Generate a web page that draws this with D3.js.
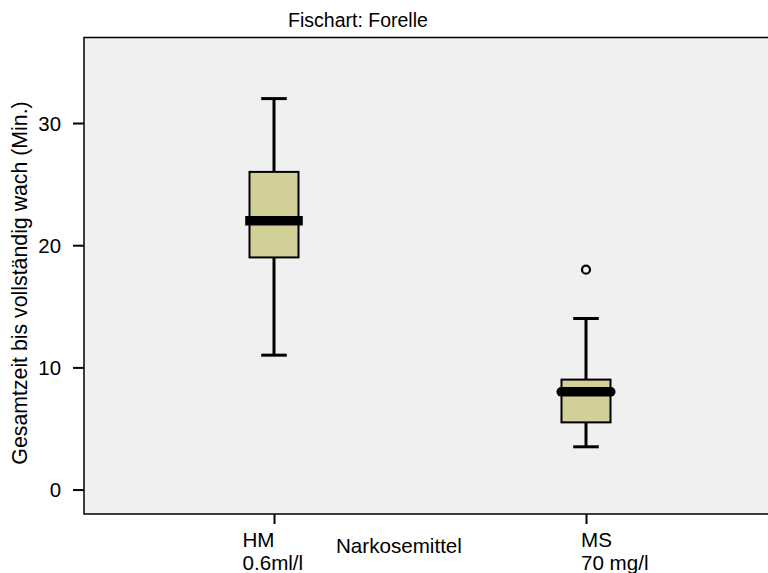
<!DOCTYPE html>
<html><head><meta charset="utf-8">
<script src="https://cdn.jsdelivr.net/npm/d3@7"></script>
<style>body{margin:0;background:#fff}text{font-family:"Liberation Sans",Arial,sans-serif;fill:#000}</style>
</head><body>
<svg id="c" width="768" height="573"></svg>
<script>
const categories = ["HM", "MS"];
const catSubLabels = ["0.6ml/l", "70 mg/l"];
const whiskerLow = [11, 3.5];
const q1 = [19, 5.5];
const median = [22, 8];
const q3 = [26, 9];
const whiskerHigh = [32, 14];
const outliers = [[], [18]];
const yTicks = [0, 10, 20, 30];

const svg = d3.select("#c");
const L = 84, T = 37.5, B = 514, R = 776;
const fsTitle = "19.5px", fsTick = "20.4px", fsLab = "20.6px", fsY = "21.3px";

svg.append("rect").attr("x", L).attr("y", T).attr("width", R - L).attr("height", B - T)
  .attr("fill", "#f0f0f0").attr("stroke", "#000").attr("stroke-width", 1.5);

const y = d3.scaleLinear().domain([-2, 37]).range([B, T]);
const x = d3.scalePoint().domain(categories).range([L, R]).padding(0.609);

// y axis
const yAxis = svg.append("g").attr("transform", `translate(${L},0)`)
  .call(d3.axisLeft(y).tickValues(yTicks).tickSize(11).tickPadding(12).tickFormat(d3.format("d")));
yAxis.select(".domain").remove();
yAxis.selectAll(".tick line").attr("stroke", "#000").attr("stroke-width", 2);
yAxis.selectAll(".tick text").style("font-size", fsTick).attr("dy", "0.35em");

// x axis ticks
const xAxis = svg.append("g").attr("transform", `translate(0,${B})`)
  .call(d3.axisBottom(x).tickSize(10).tickFormat(""));
xAxis.select(".domain").remove();
xAxis.selectAll(".tick line").attr("stroke", "#000").attr("stroke-width", 2);

const labelDx = [-31.5, -5];
categories.forEach((c, i) => {
  const t = svg.append("text").attr("x", x(c) + labelDx[i]).attr("y", 546.5).style("font-size", fsLab);
  t.append("tspan").attr("x", x(c) + labelDx[i]).text(c);
  t.append("tspan").attr("x", x(c) + labelDx[i]).attr("dy", 23.5).text(catSubLabels[i]);
});

svg.append("text").attr("x", 336).attr("y", 553).style("font-size", fsLab).text("Narkosemittel");
svg.append("text").attr("x", 358).attr("y", 27).attr("text-anchor", "middle").style("font-size", fsTitle).text("Fischart: Forelle");
svg.append("text").attr("transform", "translate(27,283) rotate(-90)").attr("text-anchor", "middle")
  .style("font-size", fsY).text("Gesamtzeit bis vollständig wach (Min.)");

const boxW = 49, capW = 25.6, medW = 57.6;
const g = svg.append("g");
categories.forEach((c, i) => {
  const cx = x(c);
  g.append("line").attr("x1", cx).attr("x2", cx).attr("y1", y(whiskerHigh[i])).attr("y2", y(q3[i]))
    .attr("stroke", "#000").attr("stroke-width", 3);
  g.append("line").attr("x1", cx).attr("x2", cx).attr("y1", y(q1[i])).attr("y2", y(whiskerLow[i]))
    .attr("stroke", "#000").attr("stroke-width", 3);
  [whiskerHigh[i], whiskerLow[i]].forEach(v => {
    g.append("line").attr("x1", cx - capW / 2).attr("x2", cx + capW / 2).attr("y1", y(v)).attr("y2", y(v))
      .attr("stroke", "#000").attr("stroke-width", 3);
  });
  g.append("rect").attr("x", cx - boxW / 2).attr("width", boxW)
    .attr("y", y(q3[i])).attr("height", y(q1[i]) - y(q3[i]))
    .attr("fill", "#d3cf98").attr("stroke", "#000").attr("stroke-width", 2);
  g.append("line").attr("x1", cx - medW / 2 + (i ? 4 : 0)).attr("x2", cx + medW / 2 - (i ? 4 : 0))
    .attr("y1", y(median[i])).attr("y2", y(median[i]))
    .attr("stroke", "#000").attr("stroke-width", 9.5).attr("stroke-linecap", i ? "round" : "butt");
  outliers[i].forEach(v => {
    g.append("circle").attr("cx", cx).attr("cy", y(v)).attr("r", 4)
      .attr("fill", "none").attr("stroke", "#000").attr("stroke-width", 2.2);
  });
});
</script>
</body></html>
